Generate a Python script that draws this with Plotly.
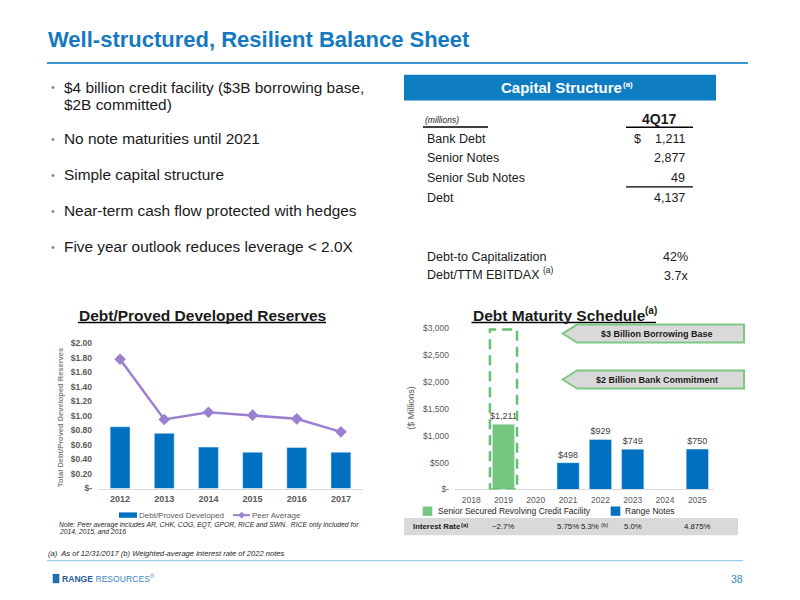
import plotly.graph_objects as go

W, H = 800, 600
FONT = "Liberation Sans"


def px(x):
    return x / W


def py(y):
    return 1 - y / H


# ---------------- data ----------------
dpd_years = ["2012", "2013", "2014", "2015", "2016", "2017"]
debt_pd = [0.85, 0.76, 0.57, 0.50, 0.565, 0.50]
peer_avg = [1.78, 0.95, 1.05, 1.01, 0.96, 0.78]
dpd_tickvals = [0, 0.2, 0.4, 0.6, 0.8, 1.0, 1.2, 1.4, 1.6, 1.8, 2.0]
dpd_ticktext = ["$-", "$0.20", "$0.40", "$0.60", "$0.80", "$1.00",
                "$1.20", "$1.40", "$1.60", "$1.80", "$2.00"]

mat_years = ["2018", "2019", "2020", "2021", "2022", "2023", "2024", "2025"]
revolver_years = ["2019"]
revolver = [1211]
notes_years = ["2021", "2022", "2023", "2025"]
notes = [498, 929, 749, 750]
mat_tickvals = [0, 500, 1000, 1500, 2000, 2500, 3000]
mat_ticktext = ["$-", "$500", "$1,000", "$1,500", "$2,000", "$2,500", "$3,000"]
rate_years = ["2019", "2021", "2022", "2023", "2025"]
rates = ["~2.7%", "5.75%", "5.3%", "5.0%", "4.875%"]
rate_notes = ["", "", "(b)", "", ""]

cap_labels = ["Bank Debt", "Senior Notes", "Senior Sub Notes", "Debt"]
cap_values = ["1,211", "2,877", "49", "4,137"]
ratio_labels = ["Debt-to Capitalization", "Debt/TTM EBITDAX"]
ratio_values = ["42%", "3.7x"]

bullets = [
    ["$4 billion credit facility ($3B borrowing base,", "$2B committed)"],
    ["No note maturities until 2021"],
    ["Simple capital structure"],
    ["Near-term cash flow protected with hedges"],
    ["Five year outlook reduces leverage < 2.0X"],
]

BLUE = "#0070C0"
GREEN = "#77C67F"
PURPLE = "#9B80D0"
TITLE_BLUE = "#1479BF"
GRAY_TXT = "#595959"

fig = go.Figure()

# ---------------- left chart ----------------
fig.add_trace(go.Bar(x=dpd_years, y=debt_pd, marker_color=BLUE, width=0.45,
                     name="Debt/Proved Developed", xaxis="x", yaxis="y",
                     showlegend=False))
fig.add_trace(go.Scatter(x=dpd_years, y=peer_avg, mode="lines+markers",
                         line=dict(color=PURPLE, width=2.5),
                         marker=dict(symbol="diamond", size=9, color=PURPLE),
                         name="Peer Average", xaxis="x", yaxis="y",
                         showlegend=False))

# ---------------- right chart ----------------
fig.add_trace(go.Bar(x=revolver_years, y=revolver, marker_color=GREEN, width=0.69,
                     text=[f"${v:,}" for v in revolver], textposition="outside",
                     textfont=dict(size=9, color="#404040", family=FONT),
                     cliponaxis=False, constraintext="none",
                     name="Senior Secured Revolving Credit Facility",
                     xaxis="x2", yaxis="y2", showlegend=False))
fig.add_trace(go.Bar(x=notes_years, y=notes, marker_color=BLUE, width=0.69,
                     text=[f"${v:,}" for v in notes], textposition="outside",
                     textfont=dict(size=9, color="#404040", family=FONT),
                     cliponaxis=False, constraintext="none",
                     name="Range Notes", xaxis="x2", yaxis="y2", showlegend=False))

shapes = []
ann = []


def text(x, y, s, size=12, color="#1a1a1a", anchor="left", bold=False,
         italic=False, angle=0):
    if bold:
        s = f"<b>{s}</b>"
    if italic:
        s = f"<i>{s}</i>"
    ann.append(dict(x=px(x), y=py(y), xref="paper",
                    yref="paper", text=s, showarrow=False, xanchor=anchor,
                    yanchor="middle", textangle=angle, borderpad=0,
                    font=dict(size=size, color=color, family=FONT)))


def line(x0, y0, x1, y1, color="#000", width=1.2):
    shapes.append(dict(type="line", xref="paper", yref="paper",
                       x0=px(x0), y0=py(y0), x1=px(x1), y1=py(y1),
                       line=dict(color=color, width=width)))


def rect(x0, y0, x1, y1, fill, lc=None, lw=0):
    shapes.append(dict(type="rect", xref="paper", yref="paper",
                       x0=px(x0), y0=py(y0), x1=px(x1), y1=py(y1),
                       fillcolor=fill, line=dict(color=lc or fill, width=lw),
                       layer="below"))


# title
text(47, 35, "Well-structured, Resilient Balance Sheet", size=22,
     color=TITLE_BLUE, bold=True)
line(47, 59, 748, 59, color="#3C96D2", width=2)

# bullets
ys = [83.4, 135.8, 172.4, 209.4, 246.0]
for b, y in zip(bullets, ys):
    text(50, y, "•", size=11, color="#8C8C8C", anchor="left")
    for i, l in enumerate(b):
        text(63, y + i * 17.7, l, size=15.4, color="#1a1a1a")

# capital structure box
rect(404, 71, 716, 97, "#0E7DC2")
text(623, 84, "Capital Structure", size=15, color="white", bold=True,
     anchor="right")
text(622, 80.5, "(a)", size=8, color="white", bold=True)
text(424, 117, "(millions)", size=8.5, italic=True)
line(423, 124, 488, 124, width=1.5)
text(659, 115.5, "4Q17", size=14, bold=True, anchor="center")
line(626, 124.3, 693, 124.3, width=1.5)
for i, (l, v) in enumerate(zip(cap_labels, cap_values)):
    y = 136 + 20 * i
    text(426, y, l, size=12.5)
    text(686, y, v, size=12.5, anchor="right")
text(633, 136, "$", size=12.5)
line(626, 185, 693, 185, width=1.2)
for i, (l, v) in enumerate(zip(ratio_labels, ratio_values)):
    y = 256 + 18.5 * i
    text(426, y, l, size=12.5)
    text(689, y + (1.5 if i == 1 else 0), v, size=12.5, anchor="right")
text(541.5, 269.5, "(a)", size=8.5)

# left chart title
text(202, 315.5, "Debt/Proved Developed Reserves", size=15.5, bold=True,
     anchor="center")
line(78, 323, 326, 323, width=1.5)
text(60, 420, "Total Debt/Proved Developed Reserves", size=7.5, color="#7F7F7F",
     bold=True, angle=-90, anchor="center")
# left legend
rect(119, 516, 137, 521.5, BLUE)
text(138, 518.8, "Debt/Proved Developed", size=8, color=GRAY_TXT)
line(233, 518.8, 250, 518.8, color=PURPLE, width=2)
shapes.append(dict(type="path", xref="paper", yref="paper",
                   path=(f"M {px(241.7)} {py(515.3)} L {px(245.2)} {py(518.8)} "
                         f"L {px(241.7)} {py(522.3)} L {px(238.2)} {py(518.8)} Z"),
                   fillcolor=PURPLE, line=dict(color=PURPLE, width=0)))
text(251, 518.8, "Peer Average", size=8, color=GRAY_TXT)
text(58, 528.5, "Note: Peer average includes AR, CHK, COG, EQT, GPOR, RICE and SWN.  "
     "RICE only included for", size=6.8, italic=True, color="#262626")
text(58, 535.5, "2014, 2015, and 2016", size=6.8, italic=True, color="#262626")

# right chart title
text(471.5, 315.5, "Debt Maturity Schedule", size=15.5, bold=True)
text(643.5, 310.5, "(a)", size=10, bold=True)
line(471.5, 323, 656, 323, width=1.5)
text(411.5, 410, "($ Millions)", size=9, color=GRAY_TXT, angle=-90, anchor="center")

# dashed borrowing base box around revolver
shapes.append(dict(type="rect", xref="x2", yref="y2", x0=0.58, x1=1.42, y0=0,
                   y1=2970, line=dict(color="#66C06E", width=2.5, dash="10px,6px"),
                   fillcolor="rgba(0,0,0,0)"))

# callout arrows
for (top, bot, label) in [(325, 343.3, "$3 Billion Borrowing Base"),
                          (371.7, 390, "$2 Billion Bank Commitment")]:
    mid = (top + bot) / 2
    shapes.append(dict(type="path", xref="paper", yref="paper",
                       path=(f"M {px(562.7)} {py(mid)} L {px(577)} {py(top)} "
                             f"L {px(744)} {py(top)} L {px(744)} {py(bot)} "
                             f"L {px(577)} {py(bot)} Z"),
                       fillcolor="#D9D9D9", line=dict(color="#7DC983", width=2)))
    text(657, mid, label, size=9, bold=True, color="#1a1a1a", anchor="center")

# right legend
rect(422.7, 510, 432.3, 519.5, GREEN)
text(436.5, 515, "Senior Secured Revolving Credit Facility", size=8.5, color="#262626")
rect(610.7, 510, 620.3, 519.5, BLUE)
text(624, 515, "Range Notes", size=8.5, color="#262626")

# interest rate band
rect(404, 521.7, 738, 539.3, "#D9D9D9")
text(411.5, 530.5, "Interest Rate", size=7.8, bold=True, color="#1a1a1a")
text(460, 528.5, "(a)", size=6, bold=True, color="#1a1a1a")
for yr, r, nte in zip(rate_years, rates, rate_notes):
    idx = mat_years.index(yr)
    ann.append(dict(x=idx, y=py(530.5), xref="x2",
                    yref="paper", text=r, showarrow=False,
                    xanchor="center" if not nte else "right", yanchor="middle",
                    borderpad=0,
                    font=dict(size=7.8, color="#1a1a1a", family=FONT)))
    if nte:
        ann.append(dict(x=idx, y=py(528.5), xref="x2", yref="paper", text=nte,
                        showarrow=False, xanchor="left", yanchor="middle",
                        borderpad=0,
                        font=dict(size=6, color="#1a1a1a", family=FONT)))

# footer
text(46.5, 557.5, "(a)  As of 12/31/2017 (b) Weighted-average interest rate of 2022 notes",
     size=7.6, italic=True, color="#262626")
line(47, 565, 743, 565, color="#9ACBEA", width=1.2)
rect(52.7, 578.5, 59.3, 588, "#1F6FB5")
text(61, 583.5, "<span style='color:#1F5C99'><b>RANGE</b></span>"
     "<span style='color:#3F86C6'> RESOURCES</span><sup>®</sup>",
     size=8.6, color="#3F86C6")
text(743.5, 584, "38", size=10.5, color="#2E8BCB", anchor="right")

fig.update_layout(
    width=W, height=H, margin=dict(l=0, r=0, t=0, b=0),
    paper_bgcolor="white", plot_bgcolor="white",
    barmode="overlay", showlegend=False,
    font=dict(family=FONT),
    shapes=shapes, annotations=ann,
    xaxis=dict(domain=[px(98), px(363)], type="category", range=[-0.5, 5.5],
               showline=True, linecolor="#D9D9D9", linewidth=1, showgrid=False,
               ticks="", tickfont=dict(size=9, color=GRAY_TXT, family=FONT,
                                       weight="bold"),
               ticklabelstandoff=2, fixedrange=True),
    yaxis=dict(domain=[py(491.7), py(344)], range=[0, 2.0], tickvals=dpd_tickvals,
               ticktext=dpd_ticktext, showgrid=False, zeroline=False, showline=False,
               ticks="", tickfont=dict(size=8.5, color=GRAY_TXT, family=FONT,
                                       weight="bold"),
               ticklabelstandoff=5, anchor="x"),
    xaxis2=dict(domain=[px(455), px(713.5)], type="category",
                categoryorder="array", categoryarray=mat_years, range=[-0.5, 7.5],
                tickvals=mat_years, anchor="y2",
                showline=True, linecolor="#D9D9D9", linewidth=1, showgrid=False,
                ticks="", tickfont=dict(size=8.5, color=GRAY_TXT, family=FONT),
                ticklabelstandoff=2),
    yaxis2=dict(domain=[py(492.7), py(328.3)], range=[0, 3000],
                tickvals=mat_tickvals, ticktext=mat_ticktext, showgrid=False,
                zeroline=False, showline=False, ticks="",
                tickfont=dict(size=8.5, color=GRAY_TXT, family=FONT),
                ticklabelstandoff=5, anchor="x2"),
)

fig.write_html("out.html", config={"displayModeBar": False},
               post_script="document.body.style.margin='0px';")
